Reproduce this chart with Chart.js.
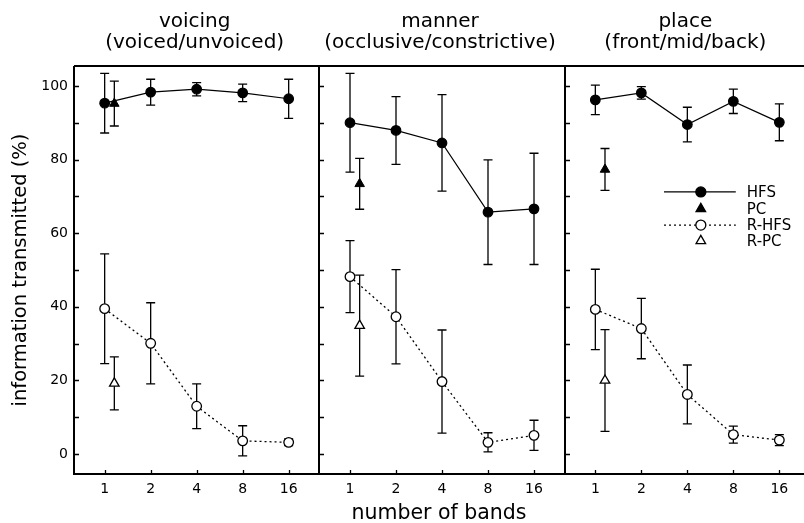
<!DOCTYPE html>
<html>
<head>
<meta charset="utf-8">
<script src="https://cdn.jsdelivr.net/npm/chart.js@4/dist/chart.umd.min.js"></script>
<style>
html, body { margin: 0; padding: 0; background: #fff; }
#wrap { width: 804px; height: 523px; }
</style>
</head>
<body>
<div id="wrap"><canvas id="chart" width="804" height="523"></canvas></div>
<script>
const bands = ['1', '2', '4', '8', '16'];
const panelTitles = [
    ['voicing', '(voiced/unvoiced)'],
    ['manner', '(occlusive/constrictive)'],
    ['place', '(front/mid/back)']
];

// mean % and error bar half length, per feature
const hfsVoicing = [95.3, 98.3, 99.1, 98.1, 96.5];
const hfsVoicingErr = [8.1, 3.5, 1.8, 2.4, 5.3];
const rhfsVoicing = [39.5, 30.1, 13.0, 3.6, 3.2];
const rhfsVoicingErr = [14.9, 11.0, 6.1, 4.1, 0.9];
const pcVoicing = 95.2, pcVoicingErr = 6.1;
const rpcVoicing = 19.2, rpcVoicingErr = 7.2;

const hfsManner = [90.0, 87.9, 84.5, 65.7, 66.6];
const hfsMannerErr = [13.4, 9.2, 13.1, 14.2, 15.1];
const rhfsManner = [48.2, 37.3, 19.7, 3.2, 5.1];
const rhfsMannerErr = [9.8, 12.8, 14.0, 2.6, 4.1];
const pcManner = 73.4, pcMannerErr = 6.9;
const rpcManner = 34.9, rpcMannerErr = 13.7;

const hfsPlace = [96.2, 98.1, 89.5, 95.8, 90.1];
const hfsPlaceErr = [4.0, 1.7, 4.7, 3.3, 5.0];
const rhfsPlace = [39.3, 34.1, 16.2, 5.3, 3.8];
const rhfsPlaceErr = [10.9, 8.2, 8.0, 2.3, 1.5];
const pcPlace = 77.3, pcPlaceErr = 5.7;
const rpcPlace = 20.0, rpcPlaceErr = 13.8;

const yTicks = [0, 20, 40, 60, 80, 100];

const panelStep = 16 / 3;
const pcShift = 0.21;

function series(vals, panel) {
    return vals.map((v, i) => ({ x: panel * panelStep + i, y: v }));
}

const hfsAll = [hfsVoicing, hfsManner, hfsPlace];
const hfsErrAll = [hfsVoicingErr, hfsMannerErr, hfsPlaceErr];
const rhfsAll = [rhfsVoicing, rhfsManner, rhfsPlace];
const rhfsErrAll = [rhfsVoicingErr, rhfsMannerErr, rhfsPlaceErr];
const pcAll = [[pcVoicing, pcVoicingErr], [pcManner, pcMannerErr], [pcPlace, pcPlaceErr]];
const rpcAll = [[rpcVoicing, rpcVoicingErr], [rpcManner, rpcMannerErr], [rpcPlace, rpcPlaceErr]];

const datasets = [];
for (let p = 0; p < 3; p++) {
    datasets.push({
        label: 'HFS', data: series(hfsAll[p], p), errors: hfsErrAll[p],
        showLine: true, borderColor: '#000', borderWidth: 1.2,
        pointStyle: 'circle', pointRadius: 4.8, pointBackgroundColor: '#000', pointBorderColor: '#000'
    });
    datasets.push({
        label: 'R-HFS', data: series(rhfsAll[p], p), errors: rhfsErrAll[p],
        showLine: true, borderColor: '#000', borderWidth: 1.3, borderDash: [2, 3],
        pointStyle: 'circle', pointRadius: 4.8, pointBackgroundColor: '#fff', pointBorderColor: '#000', pointBorderWidth: 1.3
    });
    datasets.push({
        label: 'PC', data: [{ x: p * panelStep + pcShift, y: pcAll[p][0] }], errors: [pcAll[p][1]],
        showLine: false, pointStyle: 'triangle', pointRadius: 5.5, pointBackgroundColor: '#000', pointBorderColor: '#000'
    });
    datasets.push({
        label: 'R-PC', data: [{ x: p * panelStep + pcShift, y: rpcAll[p][0] }], errors: [rpcAll[p][1]],
        showLine: false, pointStyle: 'triangle', pointRadius: 5.5, pointBackgroundColor: '#fff', pointBorderColor: '#000', pointBorderWidth: 1.3
    });
}

const xTickValues = [];
for (let p = 0; p < 3; p++) for (let i = 0; i < bands.length; i++) xTickValues.push(p * panelStep + i);

const legendItems = [
    { text: 'HFS', fill: '#000', style: 'circle', dash: [] },
    { text: 'PC', fill: '#000', style: 'triangle', dash: null },
    { text: 'R-HFS', fill: '#fff', style: 'circle', dash: [2, 3] },
    { text: 'R-PC', fill: '#fff', style: 'triangle', dash: null }
];

const framePlugin = {
    id: 'frame',
    beforeDatasetsDraw(chart) {
        const ctx = chart.ctx, ys = chart.scales.y;
        ctx.save();
        ctx.strokeStyle = '#000';
        ctx.lineWidth = 1.3;
        chart.data.datasets.forEach((ds, di) => {
            chart.getDatasetMeta(di).data.forEach((pt, i) => {
                const v = ds.data[i].y, e = ds.errors[i];
                const top = ys.getPixelForValue(v + e), bot = ys.getPixelForValue(v - e);
                ctx.beginPath();
                ctx.moveTo(pt.x, top); ctx.lineTo(pt.x, bot);
                ctx.moveTo(pt.x - 4.5, top); ctx.lineTo(pt.x + 4.5, top);
                ctx.moveTo(pt.x - 4.5, bot); ctx.lineTo(pt.x + 4.5, bot);
                ctx.stroke();
            });
        });
        ctx.restore();
    },
    afterDraw(chart) {
        const ctx = chart.ctx, xs = chart.scales.x, ys = chart.scales.y, a = chart.chartArea;
        ctx.save();
        ctx.strokeStyle = '#000';
        ctx.fillStyle = '#000';
        // frame
        ctx.lineWidth = 2;
        ctx.beginPath();
        ctx.moveTo(a.left, a.top); ctx.lineTo(a.right, a.top);
        ctx.moveTo(a.left - 1, a.bottom); ctx.lineTo(a.right, a.bottom);
        for (let p = 0; p < 3; p++) {
            const px = Math.round(xs.getPixelForValue(-2 / 3 + p * panelStep));
            ctx.moveTo(px, a.top); ctx.lineTo(px, a.bottom);
        }
        ctx.stroke();
        // inward tick marks
        ctx.lineWidth = 1.3;
        ctx.beginPath();
        for (let p = 0; p < 3; p++) {
            const px = Math.round(xs.getPixelForValue(-2 / 3 + p * panelStep));
            for (let v = 0; v <= 100; v += 10) {
                const py = Math.round(ys.getPixelForValue(v)) + 0.5;
                ctx.moveTo(px, py); ctx.lineTo(px + 5, py);
            }
        }
        xTickValues.forEach(v => {
            const px = Math.round(xs.getPixelForValue(v)) + 0.5;
            ctx.moveTo(px, a.bottom); ctx.lineTo(px, a.bottom - 4);
        });
        ctx.stroke();
        // panel titles
        ctx.font = '20px "DejaVu Sans"';
        ctx.textAlign = 'center';
        ctx.textBaseline = 'alphabetic';
        panelTitles.forEach((t, p) => {
            const cx = xs.getPixelForValue(p * panelStep + 2) - 2;
            ctx.fillText(t[0], cx, 27);
            ctx.fillText(t[1], cx, 48);
        });
        // legend
        const lx0 = xs.getPixelForValue(12.16), lx1 = xs.getPixelForValue(13.72), lm = xs.getPixelForValue(12.96);
        const lt = xs.getPixelForValue(13.96);
        const ly = [71.2, 66.6, 62.2, 57.9];
        ctx.font = '15px "DejaVu Sans"';
        ctx.textAlign = 'left';
        ctx.textBaseline = 'middle';
        legendItems.forEach((it, k) => {
            const py = ys.getPixelForValue(ly[k]);
            if (it.dash) {
                ctx.setLineDash(it.dash);
                ctx.lineWidth = 1.2;
                ctx.beginPath(); ctx.moveTo(lx0, py); ctx.lineTo(lx1, py); ctx.stroke();
                ctx.setLineDash([]);
            }
            ctx.fillStyle = it.fill;
            ctx.strokeStyle = '#000';
            ctx.lineWidth = 1.3;
            Chart.helpers.drawPoint(ctx, { pointStyle: it.style, radius: it.style === 'triangle' ? 5.5 : 5, rotation: 0, borderWidth: 1.3 }, lm, py);
            ctx.fillStyle = '#000';
            ctx.fillText(it.text, lt, py + 1);
        });
        ctx.restore();
    }
};

Chart.defaults.font.family = '"DejaVu Sans"';
Chart.defaults.color = '#000';

new Chart(document.getElementById('chart').getContext('2d'), {
    type: 'scatter',
    data: { datasets: datasets },
    options: {
        responsive: false,
        animation: false,
        devicePixelRatio: 1,
        layout: { autoPadding: false, padding: { top: 66, right: 0, left: 0, bottom: 0 } },
        plugins: { legend: { display: false }, tooltip: { enabled: false } },
        scales: {
            x: {
                type: 'linear',
                min: -2 / 3,
                max: -2 / 3 + 730 / 46,
                grid: { display: false, drawTicks: false },
                border: { display: false },
                afterBuildTicks(scale) { scale.ticks = xTickValues.map(v => ({ value: v })); },
                afterFit(scale) { scale.height = 49; scale.paddingLeft = 0; scale.paddingRight = 0; },
                ticks: {
                    autoSkip: false, maxRotation: 0, padding: 7,
                    font: { size: 14 },
                    callback: (v, i) => bands[i % bands.length]
                },
                title: { display: true, text: 'number of bands', font: { size: 20.5 }, padding: { top: 0, bottom: -3 } }
            },
            y: {
                min: -5.4,
                max: 105.4,
                grid: { display: false, drawTicks: false },
                border: { display: false },
                afterBuildTicks(scale) { scale.ticks = yTicks.map(v => ({ value: v })); },
                afterFit(scale) { scale.width = 74; scale.paddingTop = 0; scale.paddingBottom = 0; },
                ticks: { padding: 6, font: { size: 14 } },
                title: { display: true, text: 'information transmitted (%)', font: { size: 19.5 }, padding: { top: 9, bottom: 0 } }
            }
        }
    },
    plugins: [framePlugin]
});
</script>
</body>
</html>
